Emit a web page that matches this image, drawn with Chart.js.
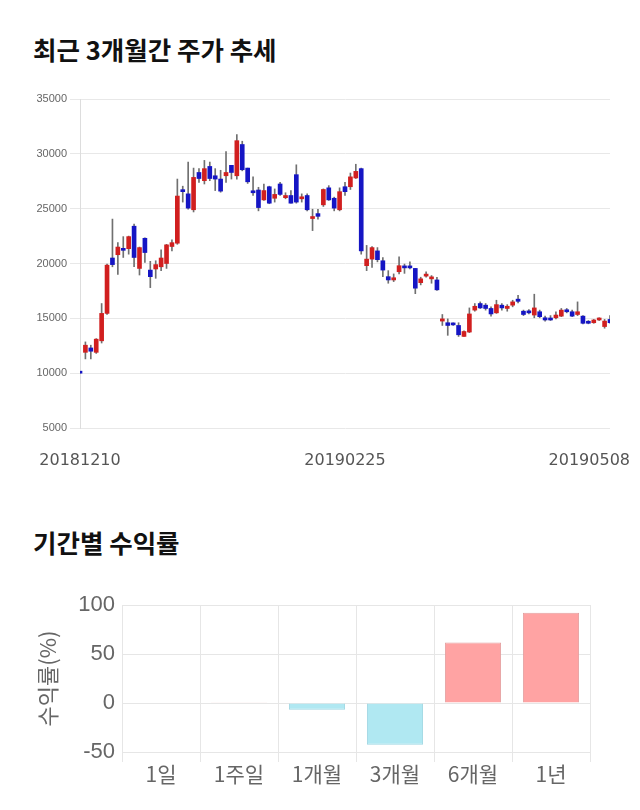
<!DOCTYPE html>
<html><head><meta charset="utf-8">
<script src="https://cdn.jsdelivr.net/npm/chart.js@4/dist/chart.umd.min.js"></script>
<style>
body{margin:0;background:#fff;width:640px;height:810px;position:relative;overflow:hidden;font-family:"Noto Sans CJK KR",sans-serif}
.t{position:absolute;left:33px;margin:0;font-size:25.5px;font-weight:700;color:#111;line-height:1;white-space:nowrap}
#t1{top:36px}
#t2{top:529px}
#w1{position:absolute;left:0;top:80px;width:640px;height:400px}
#w2{position:absolute;left:0;top:590px;width:640px;height:220px}
</style></head>
<body>
<h2 class="t" id="t1">최근 3개월간 주가 추세</h2>
<div id="w1"><canvas id="c1"></canvas></div>
<h2 class="t" id="t2">기간별 수익률</h2>
<div id="w2"><canvas id="c2"></canvas></div>
<script>
const dates = ['20181210','20181211','20181212','20181213','20181214','20181217','20181218','20181219','20181220','20181221','20181224','20181226','20181227','20181228',
'20190102','20190103','20190104','20190107','20190108','20190109','20190110','20190111','20190114','20190115','20190116','20190117','20190118','20190121','20190122','20190123','20190124','20190125','20190128','20190129','20190130','20190131',
'20190201','20190207','20190208','20190211','20190212','20190213','20190214','20190215','20190218','20190219','20190220','20190221','20190222','20190225','20190226','20190227','20190228',
'20190304','20190305','20190306','20190307','20190308','20190311','20190312','20190313','20190314','20190315','20190318','20190319','20190320','20190321','20190322','20190325','20190326','20190327','20190328','20190329',
'20190401','20190402','20190403','20190404','20190405','20190408','20190409','20190410','20190411','20190412','20190415','20190416','20190417','20190418','20190419','20190422','20190423','20190424','20190425','20190426','20190429','20190430',
'20190502','20190503','20190507','20190508'];
const openP = [10000,11900,12300,11900,12950,15450,20500,20800,21300,21350,23400,19550,22300,19400,19500,19700,20000,21550,21850,26700,26350,24900,28300,27550,28850,28000,27700,28000,28950,28000,30850,28700,26600,26700,25800,27000,25950,27250,26000,26200,28100,25900,26200,24100,24550,25350,26900,25950,24900,27000,27000,27800,28650,19800,20400,21150,20250,18800,18500,19250,19750,19750,19550,18250,18850,18600,18500,14750,14600,14500,14350,13350,13750,15750,16350,16200,15900,15500,16200,15900,16200,16750,15650,15650,15300,15600,15050,14900,15050,15200,15750,15600,15350,15200,14700,14600,14850,14250,14900];
const highP = [10000,12850,12550,13150,16350,19950,24050,21900,22450,22500,23600,21500,22350,20200,20250,21250,21750,22150,27700,27050,29250,28700,28650,29400,29250,28650,28500,30200,28950,31750,31150,28700,27900,26950,27250,27050,26800,27400,26450,26650,29000,26350,26350,24950,24950,26800,27100,26050,26900,27400,28250,29050,28700,21650,21550,21450,20550,19350,19050,20600,19950,20150,19550,18750,19250,18900,18750,15350,14950,14600,14600,13850,15950,16350,16500,16350,16050,16650,16350,16250,16650,17100,15750,15800,17200,15750,15200,15250,15600,15900,15900,15750,16500,15250,14800,14900,15050,14900,15250];
const lowP = [10000,11300,11300,11800,12750,15350,19700,19000,20550,20850,19700,18950,20100,17800,18650,19350,19550,21150,21750,25600,24950,24700,27400,27250,27550,26650,26500,27400,27700,27700,28450,27300,26200,24800,25750,25450,25600,26200,25900,25500,25500,25600,24800,23000,24050,25200,25750,24800,24800,26200,26750,27750,20850,19350,19650,20150,18800,18200,18350,19050,19100,19500,17250,18050,18750,18200,17550,14350,13450,14350,13350,13350,13700,15650,15900,15750,15200,15450,15750,15650,16050,16400,15250,15400,15050,15050,14750,14800,14950,15150,15500,15150,15250,14500,14500,14550,14800,14100,14550];
const closeP = [10000,12550,12000,13100,15450,19850,19900,21500,21200,22450,20550,21450,21000,18800,19900,20500,21700,21900,26150,26550,25050,27850,27750,28650,27750,27700,26600,28300,28300,31200,28550,27450,26450,25100,26650,25500,26300,26300,26200,25500,25600,26050,24900,24200,24300,26750,25800,25050,26550,26550,27900,28400,21150,20400,21450,20350,19400,18500,18700,19800,19600,19600,17750,18600,18950,18700,17600,14950,14350,14400,13500,13800,15400,16100,15950,15900,15400,16250,15950,16100,16500,16550,15350,15500,15950,15150,14850,14850,15300,15750,15600,15200,15600,14550,14550,14850,14950,14750,14600];
const tickLabels = ['20181210','20190225','20190508'];

const periods = ['1일','1주일','1개월','3개월','6개월','1년'];
const returns = [0, 0.3, -6.8, -42.7, 61.8, 92.1];

const UP = '#d11f1f', DOWN = '#1515c4', WICK = '#707070';

const fitLabels = {
  id: 'fitLabels',
  beforeDraw(chart) {
    const sc = chart.scales.x;
    const items = sc.getLabelItems();
    const ctx = chart.ctx;
    items.forEach(it => {
      if (!it.label) return;
      ctx.save(); ctx.font = it.font.string;
      const w = ctx.measureText(it.label).width; ctx.restore();
      const maxX = chart.width - 10;
      if (it.options.translation[0] + w / 2 > maxX) it.options.translation[0] = maxX - w / 2;
    });
  }
};

new Chart(document.getElementById('c1'), {
  type: 'bar',
  data: {
    labels: dates,
    datasets: [
      { data: dates.map((d, i) => [lowP[i], highP[i]]), backgroundColor: WICK, barThickness: 1, grouped: false, order: 2 },
      { data: dates.map((d, i) => [openP[i], closeP[i]]),
        backgroundColor: dates.map((d, i) => closeP[i] > openP[i] ? UP : DOWN),
        barThickness: 4, minBarLength: 2, grouped: false, order: 1 }
    ]
  },
  options: {
    responsive: true, maintainAspectRatio: false, animation: false,
    layout: { padding: { top: 19, right: 30, bottom: 10, left: 0 } },
    plugins: { legend: { display: false }, tooltip: { enabled: false } },
    scales: {
      x: {
        offset: false,
        grid: { display: false, drawTicks: false },
        border: { display: false },
        ticks: {
          autoSkip: false, maxRotation: 0, minRotation: 0, padding: 23, color: '#555',
          font: { size: 16, family: "'DejaVu Sans', sans-serif" },
          callback: function (v) { const d = this.getLabelForValue(v); return tickLabels.includes(d) ? d : ''; }
        },
        afterFit(s) { s.paddingRight = 0; s.height = 42; }
      },
      y: {
        min: 5000, max: 35000,
        ticks: { stepSize: 5000, color: '#666', padding: 3, font: { size: 11, family: "'Liberation Sans', sans-serif" },
                 callback: v => String(v) },
        grid: { color: '#e8e8e8', tickLength: 10 },
        border: { display: true, color: '#dddddd' },
        afterFit(s) { s.width = 80; }
      }
    }
  },
  plugins: [fitLabels]
});

new Chart(document.getElementById('c2'), {
  type: 'bar',
  data: {
    labels: periods,
    datasets: [{
      data: returns,
      backgroundColor: returns.map(v => v >= 0 ? 'rgb(255,163,163)' : 'rgb(176,232,242)'),
      borderColor: returns.map(v => v >= 0 ? 'rgb(228,160,160)' : 'rgb(158,214,226)'),
      borderWidth: 1
    }]
  },
  options: {
    responsive: true, maintainAspectRatio: false, animation: false,
    layout: { padding: { top: 15, right: 50, bottom: 20, left: 30 } },
    plugins: { legend: { display: false }, tooltip: { enabled: false } },
    scales: {
      x: {
        grid: { color: '#e6e6e6', tickLength: 10, offset: true },
        border: { display: false },
        ticks: { color: '#666', padding: -1, font: { size: 21, family: "'Noto Sans CJK KR', sans-serif" } },
        afterFit(s) { s.height = 38; s.paddingLeft = 0; s.paddingRight = 0; }
      },
      y: {
        min: -50, max: 100,
        ticks: { stepSize: 50, color: '#666', padding: 7, font: { size: 22, family: "'Liberation Sans', sans-serif" } },
        grid: { color: '#e6e6e6', drawTicks: false },
        border: { display: false },
        title: { display: true, text: '수익률(%)', color: '#666', font: { size: 22, family: "'Noto Sans CJK KR', sans-serif" } },
        afterFit(s) { s.width = 92; s.paddingTop = 0; s.paddingBottom = 0; }
      }
    }
  }
});
</script>
</body></html>
